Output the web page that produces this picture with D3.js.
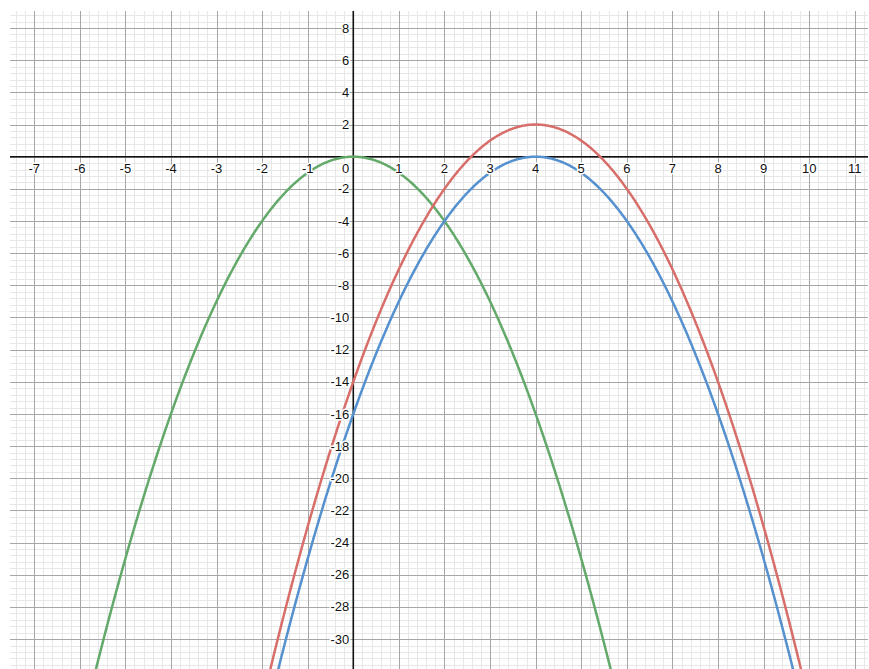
<!DOCTYPE html>
<html>
<head>
<meta charset="utf-8">
<script src="https://cdn.jsdelivr.net/npm/d3@7"></script>
<style>
  html, body { margin: 0; padding: 0; background: #fff; }
  svg { display: block; }
  .lbl { font-family: "Liberation Sans", Arial, Helvetica, sans-serif; font-size: 13px; fill: #111;
         stroke: #fff; stroke-width: 3px; paint-order: stroke; stroke-linejoin: round; }
</style>
</head>
<body>
<svg id="chart" width="869" height="669"></svg>
<script>
// Graph window
const xMin = -7.53, xMax = 11.29;
const yMin = -31.86, yMax = 9.06;

// Axis tick labels
const xTickValues = [-7, -6, -5, -4, -3, -2, -1, 1, 2, 3, 4, 5, 6, 7, 8, 9, 10, 11];
const yTickValues = [-30, -28, -26, -24, -22, -20, -18, -16, -14, -12, -10, -8, -6, -4, -2, 2, 4, 6, 8];

// Parabolas y = -(x - h)^2 + k
const curveNames  = ["green", "red", "blue"];
const vertexX     = [0, 4, 4];
const vertexY     = [0, 2, 0];
const curveColors = ["#62a96a", "#d86e6a", "#5590cf"];

const svg = d3.select("#chart");
const plotL = 10, plotR = 868, plotT = 11, plotB = 669;

const x = d3.scaleLinear().domain([xMin, xMax]).range([plotL, plotR]);
const y = d3.scaleLinear().domain([yMin, yMax]).range([plotB, plotT]);

svg.append("clipPath").attr("id", "plot")
  .append("rect").attr("x", plotL).attr("y", plotT)
  .attr("width", plotR - plotL).attr("height", plotB - plotT);

const g = svg.append("g").attr("clip-path", "url(#plot)");

// minor grid
const xMinor = d3.range(Math.ceil(xMin / 0.2), Math.floor(xMax / 0.2) + 1).map(i => +(i * 0.2).toFixed(4));
const yMinor = d3.range(Math.ceil(yMin / 0.4), Math.floor(yMax / 0.4) + 1).map(i => +(i * 0.4).toFixed(4));
g.append("g").selectAll("line").data(xMinor).join("line")
  .attr("x1", d => Math.round(x(d)) + 0.5).attr("x2", d => Math.round(x(d)) + 0.5)
  .attr("y1", plotT).attr("y2", plotB)
  .attr("stroke", "#e7e7e7").attr("stroke-width", 1);
g.append("g").selectAll("line").data(yMinor).join("line")
  .attr("y1", d => Math.round(y(d)) + 0.5).attr("y2", d => Math.round(y(d)) + 0.5)
  .attr("x1", plotL).attr("x2", plotR)
  .attr("stroke", "#e7e7e7").attr("stroke-width", 1);

// major grid
const xMajor = d3.range(Math.ceil(xMin), Math.floor(xMax) + 1);
const yMajor = d3.range(Math.ceil(yMin / 2) * 2, yMax, 2);
g.append("g").selectAll("line").data(xMajor).join("line")
  .attr("x1", d => Math.round(x(d)) + 0.5).attr("x2", d => Math.round(x(d)) + 0.5)
  .attr("y1", plotT).attr("y2", plotB)
  .attr("stroke", "#a6a6a6").attr("stroke-width", 1);
g.append("g").selectAll("line").data(yMajor).join("line")
  .attr("y1", d => Math.round(y(d)) + 0.5).attr("y2", d => Math.round(y(d)) + 0.5)
  .attr("x1", plotL).attr("x2", plotR)
  .attr("stroke", "#a6a6a6").attr("stroke-width", 1);

// axes
g.append("line").attr("x1", plotL).attr("x2", plotR)
  .attr("y1", y(0)).attr("y2", y(0)).attr("stroke", "#111").attr("stroke-width", 1.6);
g.append("line").attr("x1", x(0)).attr("x2", x(0))
  .attr("y1", plotT).attr("y2", plotB).attr("stroke", "#111").attr("stroke-width", 1.6);

// curves
const xs = d3.range(0, 801).map(i => xMin + (xMax - xMin) * i / 800);
const line = d3.line().x(d => x(d[0])).y(d => y(d[1]));
curveNames.forEach((name, i) => {
  const pts = xs.map(t => [t, -((t - vertexX[i]) ** 2) + vertexY[i]]);
  g.append("path").datum(pts)
    .attr("class", "curve-" + name)
    .attr("d", line)
    .attr("fill", "none")
    .attr("stroke", curveColors[i])
    .attr("stroke-width", 2.5)
    .attr("stroke-linejoin", "round");
});

// labels
const labels = svg.append("g");
labels.selectAll("text.xl").data(xTickValues).join("text")
  .attr("class", "lbl xl")
  .attr("x", d => x(d)).attr("y", y(0) + 16)
  .attr("text-anchor", "middle")
  .text(d => d);
labels.selectAll("text.yl").data(yTickValues).join("text")
  .attr("class", "lbl yl")
  .attr("x", x(0) - 4).attr("y", d => y(d))
  .attr("dy", "0.35em")
  .attr("text-anchor", "end")
  .text(d => d);
labels.append("text").attr("class", "lbl")
  .attr("x", x(0) - 4).attr("y", y(0) + 16)
  .attr("text-anchor", "end").text("0");
</script>
</body>
</html>
